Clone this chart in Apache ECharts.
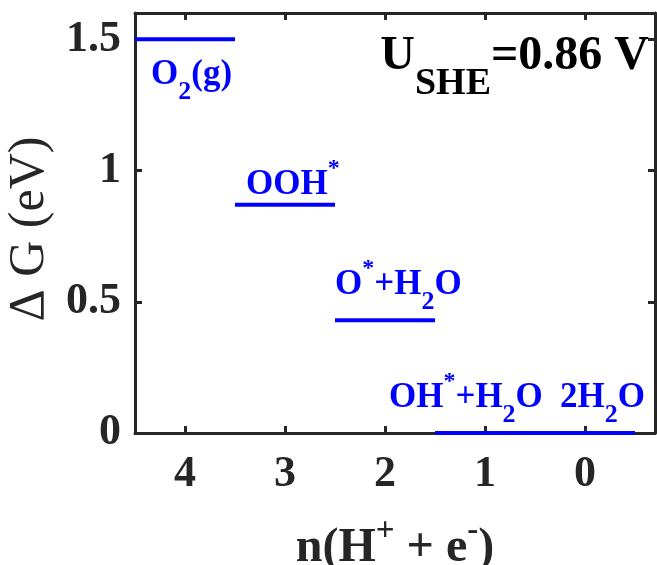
<!DOCTYPE html>
<html>
<head>
<meta charset="utf-8">
<script src="https://cdn.jsdelivr.net/npm/echarts@6/dist/echarts.min.js"></script>
<style>
  html, body { margin: 0; padding: 0; background: #fff; }
  #chart { width: 657px; height: 565px; }
</style>
</head>
<body>
<div id="chart"></div>
<script>
// free energy diagram, U_SHE = 0.86 V
const steps = [4, 3, 2, 1, 0]
const deltaG = [1.5, 0.87, 0.43, 0, 0]
const species = ['O{sub|2}(g)', 'OOH{sup|*}', 'O{sup|*}+H{sub|2}O', 'OH{sup|*}+H{sub|2}O', '2H{sub|2}O']
const yTicks = [0, 0.5, 1, 1.5]
const potential = '0.86'

// where each species name sits, in data units [n, dG]
const labelAt = [[4.34, 1.365], [3.39, 0.945], [2.5, 0.565], [1.96, 0.135], [0.25, 0.135]]

const FONT = 'Liberation Serif'
const BLUE = '#0000ff'
const AXIS = '#262626'

const chart = echarts.init(document.getElementById('chart'))

const blueRich = {
  sub: { fontFamily: FONT, fontWeight: 'bold', fontSize: 26, color: BLUE, padding: [36, 0, 0, 0] },
  sup: { fontFamily: FONT, fontWeight: 'bold', fontSize: 24, color: BLUE, padding: [0, 0, 32, 0] }
}

const segSeries = steps.map((s, i) => ({
  type: 'line',
  data: [[s + 0.5, deltaG[i]], [s - 0.5, deltaG[i]]],
  symbol: 'none',
  clip: false,
  lineStyle: { color: BLUE, width: 4 },
  z: 5
}))

const baseX = {
  type: 'value',
  inverse: true,
  min: -0.7,
  max: 4.5,
  splitLine: { show: false },
  axisLine: { onZero: false, lineStyle: { color: AXIS, width: 3 } },
  axisTick: { inside: true, length: 7, customValues: steps, lineStyle: { color: AXIS, width: 3 } }
}
const baseY = {
  type: 'value',
  min: 0,
  max: 1.6,
  interval: 0.5,
  splitLine: { show: false },
  axisLine: { show: true, onZero: false, lineStyle: { color: AXIS, width: 3 } },
  axisTick: { inside: true, length: 7, customValues: yTicks, lineStyle: { color: AXIS, width: 3 } }
}

chart.setOption({
  backgroundColor: '#fff',
  animation: false,
  title: {
    text: 'U{sub|SHE}=' + potential + ' V',
    right: 3,
    top: 6,
    textStyle: {
      fontFamily: FONT, fontWeight: 'bold', fontSize: 48, color: '#000',
      rich: {
        sub: { fontFamily: FONT, fontWeight: 'bold', fontSize: 38, color: '#000', padding: [54, 0, 0, 0] }
      }
    }
  },
  grid: { left: 135, right: 2, top: 13, bottom: 132, outerBoundsMode: 'none' },
  xAxis: [
    Object.assign({}, baseX, {
      position: 'bottom',
      axisLabel: {
        customValues: steps, margin: 20,
        fontFamily: FONT, fontWeight: 'bold', fontSize: 44, color: AXIS
      },
      name: 'n(H{sup|+} + e{sup|-})',
      nameLocation: 'middle',
      nameGap: 82,
      nameTextStyle: {
        fontFamily: FONT, fontWeight: 'bold', fontSize: 48, color: AXIS,
        rich: {
          sup: { fontFamily: FONT, fontWeight: 'bold', fontSize: 33, color: AXIS, padding: [0, 0, 34, 0] }
        }
      }
    }),
    Object.assign({}, baseX, { position: 'top', axisLabel: { show: false } })
  ],
  yAxis: [
    Object.assign({}, baseY, {
      position: 'left',
      axisLabel: {
        customValues: yTicks, margin: 14,
        fontFamily: FONT, fontWeight: 'bold', fontSize: 44, color: AXIS
      },
      name: 'Δ G (eV)',
      nameLocation: 'middle',
      nameGap: 65,
      nameTextStyle: { fontFamily: FONT, fontSize: 50, color: AXIS, padding: [0, 12, 0, 0] }
    }),
    Object.assign({}, baseY, { position: 'right', axisLabel: { show: false } })
  ],
  series: segSeries.concat([{
    type: 'scatter',
    data: labelAt,
    symbolSize: 0,
    itemStyle: { opacity: 1 },
    z: 6,
    label: {
      show: true,
      position: 'right',
      distance: 0,
      opacity: 1,
      formatter: p => species[p.dataIndex],
      fontFamily: FONT, fontWeight: 'bold', fontSize: 35, color: BLUE,
      rich: blueRich
    }
  }])
})
</script>
</body>
</html>
